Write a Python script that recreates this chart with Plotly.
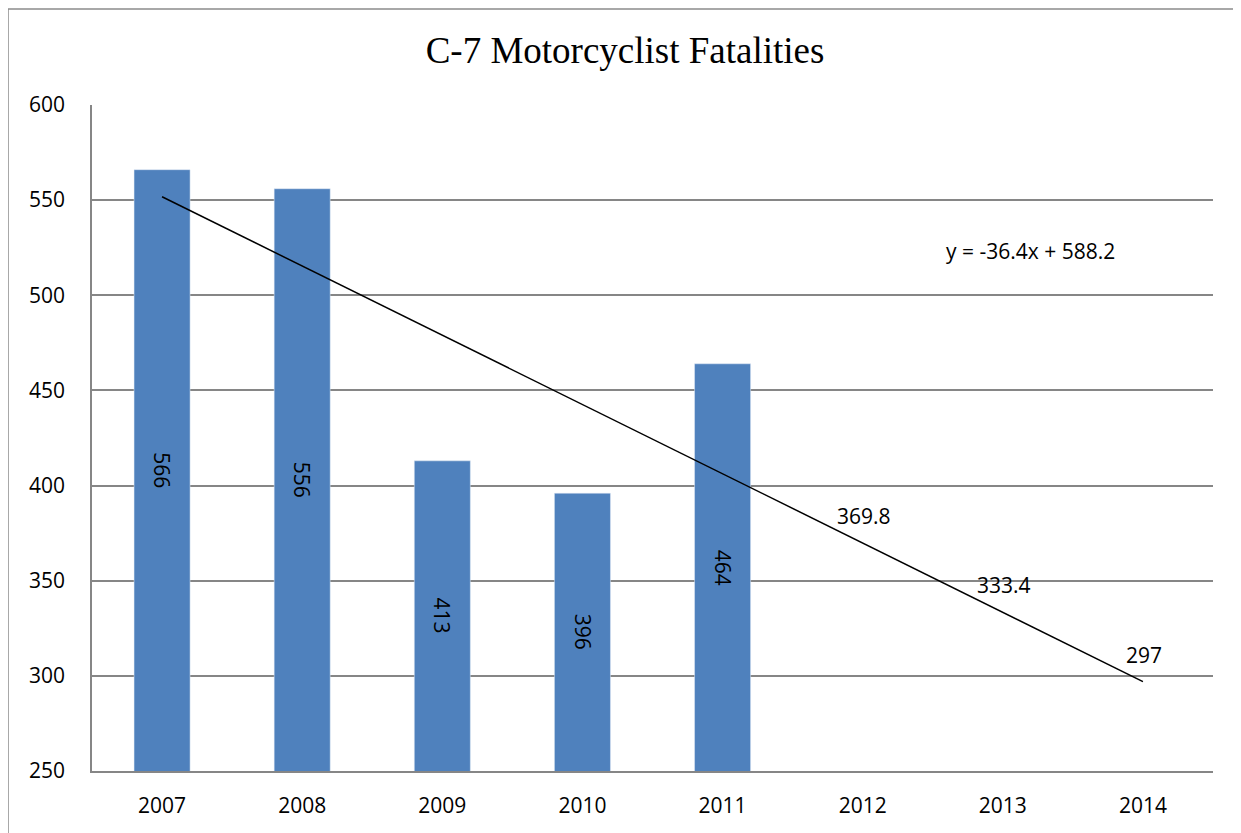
import plotly.graph_objects as go

years = ["2007", "2008", "2009", "2010", "2011", "2012", "2013", "2014"]
bar_years = ["2007", "2008", "2009", "2010", "2011"]
fatalities = [566, 556, 413, 396, 464]
trend_values = [551.8, 515.4, 479.0, 442.6, 406.2, 369.8, 333.4, 297.0]
forecast_years = ["2012", "2013", "2014"]
forecast_labels = ["369.8", "333.4", "297"]
forecast_values = [369.8, 333.4, 297.0]
equation = "y = -36.4x + 588.2"
y_min, y_max = 250, 600

grid = "#868686"
sans = "Open Sans, DejaVu Sans, sans-serif"
tick_font = dict(family=sans, size=21, color="black")

fig = go.Figure()
fig.add_trace(go.Bar(
    x=bar_years, y=fatalities, marker_color="#4F81BD", hoverinfo="x+y",
))
fig.add_trace(go.Scatter(
    x=years, y=trend_values, mode="lines",
    line=dict(color="black", width=1.5), hoverinfo="skip",
))

# value labels, rotated, centred in each bar (category index as x)
for yr, val in zip(bar_years, fatalities):
    fig.add_annotation(x=years.index(yr), y=(y_min + val) / 2, text=str(val), textangle=90,
                       xanchor="center", yanchor="middle", showarrow=False, font=tick_font)

for yr, lbl, val in zip(forecast_years, forecast_labels, forecast_values):
    fig.add_annotation(x=years.index(yr), y=val, text=lbl, showarrow=False,
                       xanchor="center", yanchor="middle",
                       xshift=1, yshift=27, font=tick_font)

fig.add_annotation(xref="paper", yref="paper", x=0.837, y=0.781, text=equation,
                   xanchor="center", yanchor="middle", showarrow=False, font=tick_font)

# outer chart frame
fig.add_shape(type="rect", xref="paper", yref="paper",
              x0=-84 / 1121, x1=1.2, y0=-0.2, y1=1 + 96 / 666,
              line=dict(color="#8c8c8c", width=1.5), layer="below")

fig.update_layout(
    width=1241, height=833,
    margin=dict(l=84, r=36, t=97, b=70, autoexpand=False),
    paper_bgcolor="white", plot_bgcolor="white",
    showlegend=False, bargap=0.6,
    title=dict(text="C-7 Motorcyclist Fatalities", x=(625 - 8) / 1241, xanchor="center",
               y=1 - 42 / 833, yanchor="middle",
               font=dict(family="Liberation Serif, Times New Roman, serif", size=37, color="black")),
)
fig.update_xaxes(type="category", categoryorder="array", categoryarray=years,
                 range=[-0.5, 7.5], autorange=False, automargin=False,
                 showline=True, linecolor=grid, linewidth=1.5, showgrid=False,
                 ticks="", tickfont=tick_font, ticklabelstandoff=15)
fig.update_yaxes(range=[y_min, y_max], dtick=50, showgrid=True, gridcolor=grid, gridwidth=1.5,
                 automargin=False,
                 showline=True, linecolor=grid, linewidth=1.5, zeroline=False,
                 ticks="", tickfont=tick_font, ticklabelstandoff=21)

fig.write_html("out.html")
